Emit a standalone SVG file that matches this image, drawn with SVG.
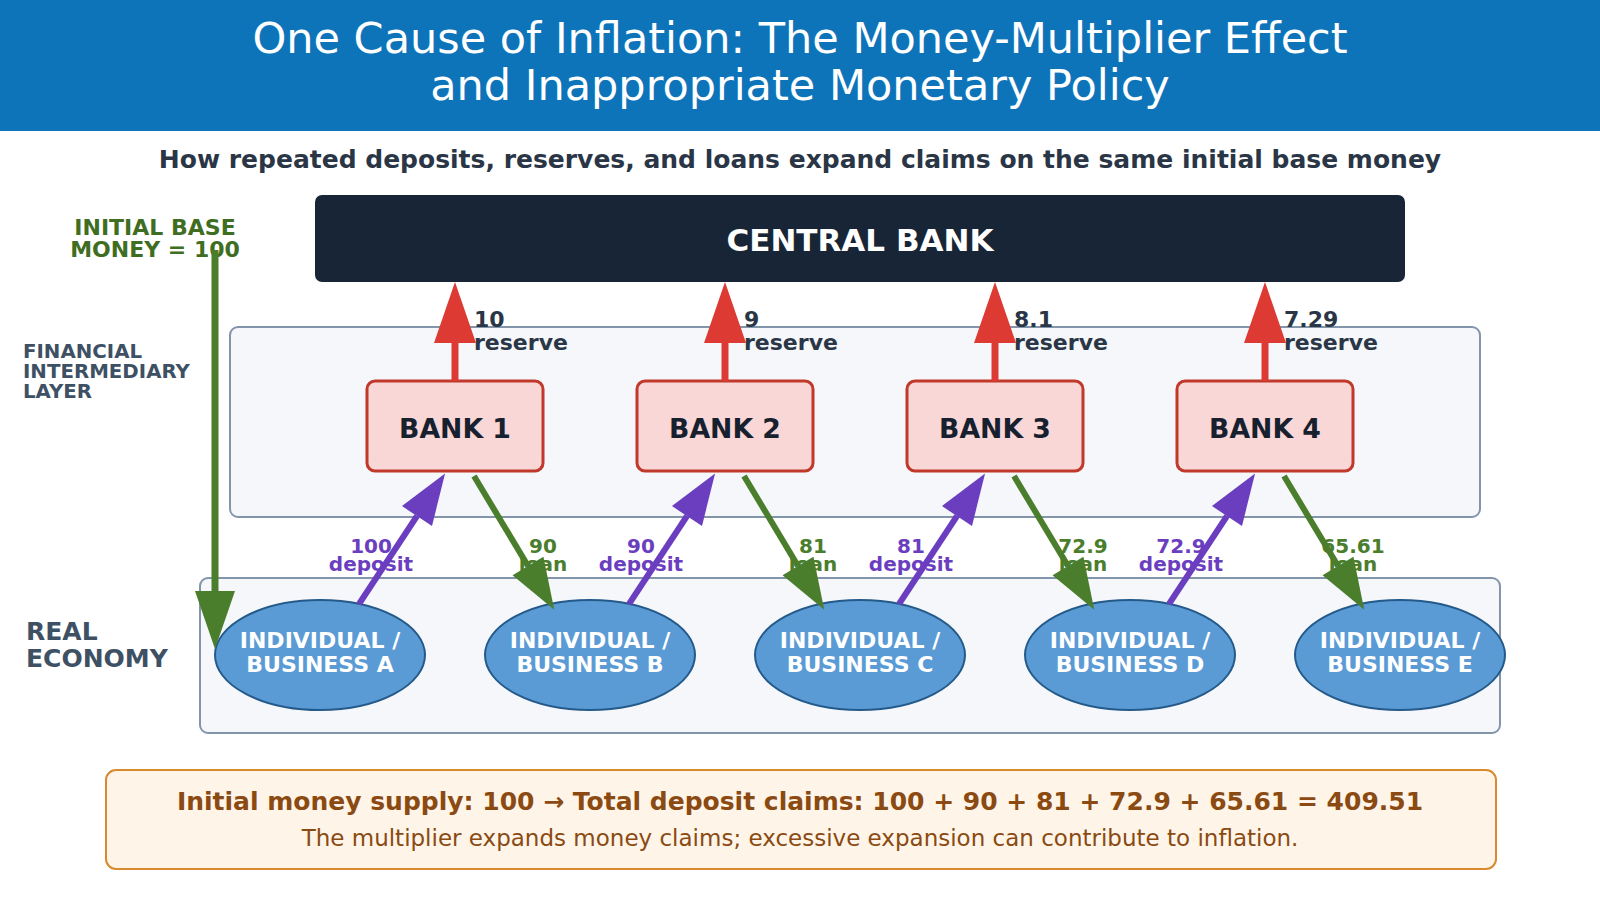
<svg xmlns="http://www.w3.org/2000/svg" width="1600" height="900" viewBox="0 0 1600 900">
<defs>
<style>
text{font-family:"DejaVu Sans","Liberation Sans",sans-serif}
.b{font-weight:bold}
.bank rect{fill:#f8d7d6;stroke:#c0392b;stroke-width:3}
.bank text{font-size:26.7px;font-weight:bold;fill:#17202e;text-anchor:middle}
.ent ellipse{fill:#5b9bd5;stroke:#245a8a;stroke-width:2}
.ent text{font-size:22px;font-weight:bold;fill:#ffffff;text-anchor:middle}
.res{font-size:22px;font-weight:bold;fill:#2a3646}
.dep{font-size:20px;font-weight:bold;fill:#6b3ec0;text-anchor:middle}
.loan{font-size:20px;font-weight:bold;fill:#4a7d2c;text-anchor:middle}
.red{stroke:#dc3a32;stroke-width:7;fill:none;marker-end:url(#hRed)}
.pur{stroke:#6b3ec0;stroke-width:6;fill:none;marker-end:url(#hPur)}
.grn{stroke:#4a7d2c;stroke-width:6;fill:none;marker-end:url(#hGrn)}
.base{stroke:#4a7d2c;stroke-width:7;fill:none;marker-end:url(#hBase)}
.layer{fill:#f5f7fb;stroke:#8395ab;stroke-width:2}
.side{font-weight:bold;fill:#3e5064}
</style>
<marker id="hRed" markerUnits="userSpaceOnUse" markerWidth="61" markerHeight="42" refX="0" refY="21" orient="auto" overflow="visible"><path d="M0,0 L61,21 L0,42 z" fill="#dc3a32"/></marker>
<marker id="hPur" markerUnits="userSpaceOnUse" markerWidth="51" markerHeight="36" refX="0" refY="18" orient="auto" overflow="visible"><path d="M0,0 L51,18 L0,36 z" fill="#6b3ec0"/></marker>
<marker id="hGrn" markerUnits="userSpaceOnUse" markerWidth="51" markerHeight="36" refX="0" refY="18" orient="auto" overflow="visible"><path d="M0,0 L51,18 L0,36 z" fill="#4a7d2c"/></marker>
<marker id="hBase" markerUnits="userSpaceOnUse" markerWidth="58" markerHeight="40" refX="0" refY="20" orient="auto" overflow="visible"><path d="M0,0 L58,20 L0,40 z" fill="#4a7d2c"/></marker>
</defs>
<rect x="0" y="0" width="1600" height="900" fill="#ffffff"/>
<g id="header">
<rect x="0" y="0" width="1600" height="131" fill="#0e74ba"/>
<text x="800" y="53" font-size="43" fill="#ffffff" text-anchor="middle">One Cause of Inflation: The Money-Multiplier Effect</text>
<text x="800" y="100" font-size="43" fill="#ffffff" text-anchor="middle">and Inappropriate Monetary Policy</text>
</g>
<text id="subtitle" class="b" x="800" y="168" font-size="25" fill="#2a3646" text-anchor="middle">How repeated deposits, reserves, and loans expand claims on the same initial base money</text>
<g id="layers">
<rect class="layer" x="230" y="327" width="1250" height="190" rx="8"/>
<rect class="layer" x="200" y="578" width="1300" height="155" rx="8" fill="#f7f9fb"/>
</g>
<g id="side-labels">
<text class="b" x="155" y="235" font-size="22" fill="#3f6e22" text-anchor="middle">INITIAL BASE</text>
<text class="b" x="155" y="257" font-size="22" fill="#3f6e22" text-anchor="middle">MONEY = 100</text>
<text class="side" x="23" y="358" font-size="19.8">FINANCIAL</text>
<text class="side" x="23" y="378" font-size="19.8">INTERMEDIARY</text>
<text class="side" x="23" y="398" font-size="19.8">LAYER</text>
<text class="side" x="26" y="640" font-size="25">REAL</text>
<text class="side" x="26" y="667" font-size="25">ECONOMY</text>
</g>
<g id="central-bank">
<rect x="315" y="195" width="1090" height="87" rx="7" fill="#172536"/>
<text class="b" x="860" y="251" font-size="31" fill="#ffffff" text-anchor="middle">CENTRAL BANK</text>
</g>
<g id="bank1" class="bank"><rect x="367" y="381" width="176" height="90" rx="8"/><text x="455" y="438">BANK 1</text></g>
<g id="bank2" class="bank"><rect x="637" y="381" width="176" height="90" rx="8"/><text x="725" y="438">BANK 2</text></g>
<g id="bank3" class="bank"><rect x="907" y="381" width="176" height="90" rx="8"/><text x="995" y="438">BANK 3</text></g>
<g id="bank4" class="bank"><rect x="1177" y="381" width="176" height="90" rx="8"/><text x="1265" y="438">BANK 4</text></g>
<g id="entA" class="ent"><ellipse cx="320" cy="655" rx="105" ry="55"/><text x="320" y="648">INDIVIDUAL /</text><text x="320" y="672">BUSINESS A</text></g>
<g id="entB" class="ent"><ellipse cx="590" cy="655" rx="105" ry="55"/><text x="590" y="648">INDIVIDUAL /</text><text x="590" y="672">BUSINESS B</text></g>
<g id="entC" class="ent"><ellipse cx="860" cy="655" rx="105" ry="55"/><text x="860" y="648">INDIVIDUAL /</text><text x="860" y="672">BUSINESS C</text></g>
<g id="entD" class="ent"><ellipse cx="1130" cy="655" rx="105" ry="55"/><text x="1130" y="648">INDIVIDUAL /</text><text x="1130" y="672">BUSINESS D</text></g>
<g id="entE" class="ent"><ellipse cx="1400" cy="655" rx="105" ry="55"/><text x="1400" y="648">INDIVIDUAL /</text><text x="1400" y="672">BUSINESS E</text></g>
<g id="edge-labels">
<text class="res" x="474" y="327">10</text><text class="res" x="474" y="350">reserve</text>
<text class="res" x="744" y="327">9</text><text class="res" x="744" y="350">reserve</text>
<text class="res" x="1014" y="327">8.1</text><text class="res" x="1014" y="350">reserve</text>
<text class="res" x="1284" y="327">7.29</text><text class="res" x="1284" y="350">reserve</text>
<text class="dep" x="371" y="553">100</text><text class="dep" x="371" y="571">deposit</text>
<text class="dep" x="641" y="553">90</text><text class="dep" x="641" y="571">deposit</text>
<text class="dep" x="911" y="553">81</text><text class="dep" x="911" y="571">deposit</text>
<text class="dep" x="1181" y="553">72.9</text><text class="dep" x="1181" y="571">deposit</text>
<text class="loan" x="543" y="553">90</text><text class="loan" x="543" y="571">loan</text>
<text class="loan" x="813" y="553">81</text><text class="loan" x="813" y="571">loan</text>
<text class="loan" x="1083" y="553">72.9</text><text class="loan" x="1083" y="571">loan</text>
<text class="loan" x="1353" y="553">65.61</text><text class="loan" x="1353" y="571">loan</text>
</g>
<g id="connectors">
<line class="base" x1="215" y1="250" x2="215" y2="591"/>
<line class="red" x1="455" y1="381" x2="455" y2="343"/>
<line class="red" x1="725" y1="381" x2="725" y2="343"/>
<line class="red" x1="995" y1="381" x2="995" y2="343"/>
<line class="red" x1="1265" y1="381" x2="1265" y2="343"/>
<line class="pur" x1="359" y1="604" x2="417" y2="516"/>
<line class="pur" x1="629" y1="604" x2="687" y2="516"/>
<line class="pur" x1="899" y1="604" x2="957" y2="516"/>
<line class="pur" x1="1169" y1="604" x2="1227" y2="516"/>
<line class="grn" x1="474" y1="476" x2="528" y2="566"/>
<line class="grn" x1="744" y1="476" x2="798" y2="566"/>
<line class="grn" x1="1014" y1="476" x2="1068" y2="566"/>
<line class="grn" x1="1284" y1="476" x2="1338" y2="566"/>
</g>
<g id="summary">
<rect x="106" y="770" width="1390" height="99" rx="10" fill="#fff4e8" stroke="#d88a2e" stroke-width="2"/>
<text class="b" x="800" y="810" font-size="25" fill="#8a4a12" text-anchor="middle">Initial money supply: 100 → Total deposit claims: 100 + 90 + 81 + 72.9 + 65.61 = 409.51</text>
<text x="800" y="846" font-size="23" fill="#8a4a12" text-anchor="middle">The multiplier expands money claims; excessive expansion can contribute to inflation.</text>
</g>
</svg>
